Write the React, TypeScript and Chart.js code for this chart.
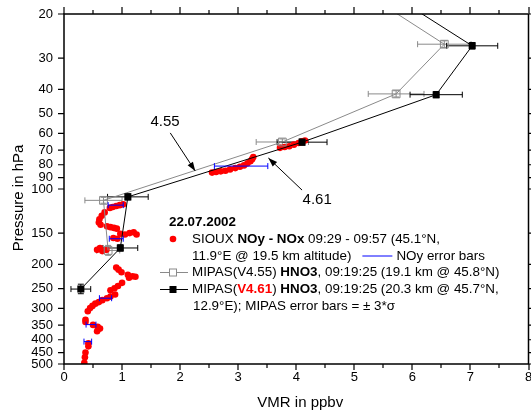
import React, { useEffect, useRef } from "react";
import { Chart, registerables } from "chart.js";

Chart.register(...registerables);

// ---------- data ----------
const xTickValues = [0, 1, 2, 3, 4, 5, 6, 7, 8];
const pressureTicks = [20, 30, 40, 50, 60, 70, 80, 90, 100, 150, 200, 250, 300, 350, 400, 450, 500];

// SIOUX NOy - NOx (ppbv vs hPa)
const siouxVmr = [
  2.55, 2.62, 2.7, 2.78, 2.86, 2.95, 3.03, 3.1, 3.16, 3.21, 3.24, 3.26,
  3.72, 3.8, 3.88, 3.96, 4.04, 4.1, 4.15,
  1.02, 0.96, 0.9, 0.84, 0.79,
  0.7, 0.65, 0.61, 0.6, 0.63,
  0.74, 0.8, 0.86, 0.91,
  0.97, 1.05, 1.13, 1.2, 1.25,
  0.85, 0.92,
  0.62, 0.57, 0.66, 0.73,
  0.9, 0.94, 0.99,
  1.1, 1.12, 1.18, 1.23,
  1.0,
  0.93, 0.87, 0.8,
  0.88, 0.8, 0.74,
  0.66, 0.6,
  0.54, 0.49, 0.45, 0.41,
  0.37, 0.37,
  0.5, 0.58, 0.62, 0.57,
  0.42, 0.42,
  0.37, 0.36, 0.35,
];
const siouxP = [
  86, 85.5, 85, 84.5, 83.5, 82.5, 81.5, 80.5, 79, 77.5, 76, 74.5,
  68.5, 68, 67.5, 66.5, 65.5, 64.5, 64,
  115, 116, 117, 118, 119,
  124, 128, 132, 136, 139,
  141, 142, 143, 144,
  151, 152, 150, 149, 152,
  157, 158,
  172, 175, 177, 175,
  206, 210, 215,
  220, 226, 223, 224,
  237,
  244, 249, 254,
  264, 269, 273,
  278, 283,
  287, 293, 299, 308,
  333, 340,
  349, 355, 361, 370,
  413, 425,
  450, 470, 495,
];

// NOy error bars (centre, pressure, half-width)
const noyVmr = [0.89, 0.9, 3.05, 0.715, 0.465, 0.41];
const noyP = [116, 158, 81, 273, 348, 407];
const noyErr = [0.13, 0.12, 0.46, 0.105, 0.085, 0.066];

// MIPAS V4.55 HNO3
const mipas455Vmr = [5.27, 6.55, 5.72, 3.76, 0.68, 0.76];
const mipas455P = [17, 26.4, 41.7, 64.9, 111, 176];
const mipas455Err = [0, 0.46, 0.48, 0.45, 0.32, 0.2];
const mipas455PErr = [0, 0.8, 1.2, 1.8, 3, 8];

// MIPAS V4.61 HNO3
const mipas461Vmr = [5.69, 7.03, 6.41, 4.1, 1.1, 0.97, 0.29];
const mipas461P = [17, 26.8, 42, 65, 107.5, 172, 251];
const mipas461Err = [0, 0.44, 0.45, 0.43, 0.35, 0.3, 0.17];
const mipas461PErr = [0, 0.8, 1.2, 1.8, 3, 5, 11];

// annotation labels: [text, labelVmr, labelP, tailVmr, tailP, tipVmr, tipP]
const annotations: [string, number, number, number, number, number, number][] = [
  ["4.55", 1.74, 54, 1.83, 59.7, 2.26, 84.7],
  ["4.61", 4.36, 110.6, 4.1, 101, 3.52, 75.2],
];

const FONT = "'Liberation Sans', Arial, Helvetica, sans-serif";
const GREY = "#8a8a8a";

function toPts(xs: number[], ys: number[]) {
  return xs.map((v, i) => ({ x: v, y: ys[i] }));
}

function drawErr(ctx: CanvasRenderingContext2D, xs: any, ys: any, vmr: number[], p: number[], err: number[], pErr: number[] | null, color: string, cap: number) {
  ctx.strokeStyle = color;
  ctx.lineWidth = 1;
  for (let i = 0; i < vmr.length; i++) {
    const yc = ys.getPixelForValue(p[i]);
    const xc = xs.getPixelForValue(vmr[i]);
    if (err[i] > 0) {
      const xl = xs.getPixelForValue(vmr[i] - err[i]);
      const xr = xs.getPixelForValue(vmr[i] + err[i]);
      ctx.beginPath();
      ctx.moveTo(xl, yc); ctx.lineTo(xr, yc);
      ctx.moveTo(xl, yc - cap); ctx.lineTo(xl, yc + cap);
      ctx.moveTo(xr, yc - cap); ctx.lineTo(xr, yc + cap);
      ctx.stroke();
    }
    if (pErr && pErr[i] > 0) {
      const yt = ys.getPixelForValue(p[i] - pErr[i]);
      const yb = ys.getPixelForValue(p[i] + pErr[i]);
      ctx.beginPath();
      ctx.moveTo(xc, yt); ctx.lineTo(xc, yb);
      ctx.moveTo(xc - 3, yt); ctx.lineTo(xc + 3, yt);
      ctx.moveTo(xc - 3, yb); ctx.lineTo(xc + 3, yb);
      ctx.stroke();
    }
  }
}

function drawRich(ctx: CanvasRenderingContext2D, x: number, y: number, parts: [string, boolean, string][], size: number) {
  let cx = x;
  ctx.textAlign = "left";
  ctx.textBaseline = "middle";
  for (const [t, bold, color] of parts) {
    ctx.font = `${bold ? "bold " : ""}${size}px ${FONT}`;
    ctx.fillStyle = color;
    ctx.fillText(t, cx, y);
    cx += ctx.measureText(t).width;
  }
  return cx;
}

function arrow(ctx: CanvasRenderingContext2D, x1: number, y1: number, x2: number, y2: number) {
  ctx.strokeStyle = "#000";
  ctx.fillStyle = "#000";
  ctx.lineWidth = 1;
  ctx.beginPath();
  ctx.moveTo(x1, y1);
  ctx.lineTo(x2, y2);
  ctx.stroke();
  const ang = Math.atan2(y2 - y1, x2 - x1);
  const L = 9, W = 3.2;
  ctx.beginPath();
  ctx.moveTo(x2, y2);
  ctx.lineTo(x2 - L * Math.cos(ang) + W * Math.sin(ang), y2 - L * Math.sin(ang) - W * Math.cos(ang));
  ctx.lineTo(x2 - L * Math.cos(ang) - W * Math.sin(ang), y2 - L * Math.sin(ang) + W * Math.cos(ang));
  ctx.closePath();
  ctx.fill();
}

const customPlugin = {
  id: "customDraw",
  beforeDatasetsDraw(chart: any) {
    const { ctx, chartArea: a, scales } = chart;
    const xs = scales.x, ys = scales.y;
    ctx.save();
    ctx.beginPath();
    ctx.rect(a.left, a.top, a.right - a.left, a.bottom - a.top);
    ctx.clip();
    drawErr(ctx, xs, ys, mipas455Vmr, mipas455P, mipas455Err, mipas455PErr, GREY, 3);
    drawErr(ctx, xs, ys, mipas461Vmr, mipas461P, mipas461Err, mipas461PErr, "#000", 3);
    ctx.restore();
  },
  afterDatasetsDraw(chart: any) {
    const { ctx, chartArea: a, scales } = chart;
    const xs = scales.x, ys = scales.y;
    ctx.save();
    // NOy error bars
    drawErr(ctx, xs, ys, noyVmr, noyP, noyErr, null, "#0000ff", 3);

    // annotations
    for (const [t, lv, lp, tv, tp, hv, hp] of annotations) {
      ctx.font = `15px ${FONT}`;
      ctx.fillStyle = "#000";
      ctx.textAlign = "center";
      ctx.textBaseline = "middle";
      ctx.fillText(t, xs.getPixelForValue(lv), ys.getPixelForValue(lp));
      arrow(ctx, xs.getPixelForValue(tv), ys.getPixelForValue(tp), xs.getPixelForValue(hv), ys.getPixelForValue(hp));
    }

    // frame: axes lines and ticks
    ctx.strokeStyle = "#000";
    ctx.lineWidth = 1.5;
    ctx.beginPath();
    ctx.moveTo(a.left, a.top); ctx.lineTo(a.right, a.top);
    ctx.moveTo(a.right, a.top); ctx.lineTo(a.right, a.bottom);
    ctx.moveTo(a.left, a.top - 0.75); ctx.lineTo(a.left, a.bottom + 0.75);
    ctx.moveTo(a.left, a.bottom); ctx.lineTo(a.right + 0.75, a.bottom);
    ctx.stroke();
    ctx.lineWidth = 1.2;
    ctx.beginPath();
    for (let v = 0; v <= 8.001; v += 0.5) {
      const px = Math.round(xs.getPixelForValue(v));
      const major = Math.abs(v - Math.round(v)) < 1e-6;
      ctx.moveTo(px, a.top); ctx.lineTo(px, a.top - (major ? 7 : 4));
      ctx.moveTo(px, a.bottom); ctx.lineTo(px, a.bottom + (major ? 6 : 4));
    }
    for (const p of pressureTicks) {
      const py = ys.getPixelForValue(p);
      ctx.moveTo(a.left, py); ctx.lineTo(a.left - 6, py);
      ctx.moveTo(a.right, py); ctx.lineTo(a.right + 4, py);
    }
    ctx.stroke();

    // axis titles
    ctx.fillStyle = "#000";
    ctx.font = `15px ${FONT}`;
    ctx.textAlign = "center";
    ctx.textBaseline = "middle";
    ctx.fillText("VMR in ppbv", (a.left + a.right) / 2 + 4, a.bottom + 39);
    ctx.save();
    ctx.translate(19, (a.top + a.bottom) / 2 + 9);
    ctx.rotate(-Math.PI / 2);
    ctx.fillText("Pressure in hPa", 0, 0);
    ctx.restore();

    // legend
    const fs = 13.4;
    const L = a.left;
    const sx = L + 96, ex = L + 124, mx = L + 109, tx = L + 128;
    drawRich(ctx, L + 105, 222, [["22.07.2002", true, "#000"]], fs);
    ctx.fillStyle = "#ff0000";
    ctx.beginPath(); ctx.arc(mx, 239, 3.3, 0, Math.PI * 2); ctx.fill();
    drawRich(ctx, tx, 239, [["SIOUX ", false, "#000"], ["NOy - NOx", true, "#000"], [" 09:29 - 09:57 (45.1°N,", false, "#000"]], fs);
    const e2 = drawRich(ctx, tx, 256, [["11.9°E @ 19.5 km altitude)", false, "#000"]], fs);
    ctx.strokeStyle = "#0000ff"; ctx.lineWidth = 1;
    ctx.beginPath(); ctx.moveTo(e2 + 11, 256); ctx.lineTo(e2 + 41, 256); ctx.stroke();
    drawRich(ctx, e2 + 45, 256, [["NOy error bars", false, "#000"]], fs);

    ctx.strokeStyle = GREY; ctx.lineWidth = 1;
    ctx.beginPath(); ctx.moveTo(sx, 272.5); ctx.lineTo(ex, 272.5); ctx.stroke();
    ctx.fillStyle = "#fff"; ctx.fillRect(mx - 3.5, 269, 7, 7);
    ctx.strokeRect(mx - 3.5, 269, 7, 7);
    drawRich(ctx, tx, 272.5, [["MIPAS(V4.55) ", false, "#000"], ["HNO3", true, "#000"], [", 09:19:25 (19.1 km @ 45.8°N)", false, "#000"]], fs);

    ctx.strokeStyle = "#000";
    ctx.beginPath(); ctx.moveTo(sx, 289.5); ctx.lineTo(ex, 289.5); ctx.stroke();
    ctx.fillStyle = "#000"; ctx.fillRect(mx - 3.5, 286, 7, 7);
    drawRich(ctx, tx, 289.5, [["MIPAS(", false, "#000"], ["V4.61", true, "#ff0000"], [") ", false, "#000"], ["HNO3", true, "#000"], [", 09:19:25 (20.3 km @ 45.7°N,", false, "#000"]], fs);
    drawRich(ctx, tx + 1, 306.5, [["12.9°E); MIPAS error bars = ± 3*σ", false, "#000"]], fs);
    ctx.restore();
  },
};

const CANVAS_W = 535;
const CANVAS_H = 412;

export default function App() {
  const ref = useRef<HTMLCanvasElement | null>(null);
  useEffect(() => {
    document.body.style.margin = "0";
    document.body.style.overflow = "hidden";
    const canvas = ref.current!;
    const chart = new Chart(canvas, {
      type: "scatter",
      data: {
        datasets: [
          {
            label: "MIPAS V4.61",
            data: toPts(mipas461Vmr, mipas461P),
            showLine: true,
            borderColor: "#000",
            borderWidth: 1,
            backgroundColor: "#000",
            pointStyle: "rect",
            pointRadius: 5,
            pointBorderWidth: 0,
          },
          {
            label: "MIPAS V4.55",
            data: toPts(mipas455Vmr, mipas455P),
            showLine: true,
            borderColor: GREY,
            borderWidth: 1,
            backgroundColor: "rgba(0,0,0,0)",
            pointStyle: "rect",
            pointRadius: 5.5,
            pointBorderWidth: 1,
            pointBorderColor: GREY,
          },
          {
            label: "SIOUX",
            data: toPts(siouxVmr, siouxP),
            showLine: false,
            backgroundColor: "#ff0000",
            borderColor: "#ff0000",
            pointRadius: 3.3,
            pointBorderWidth: 0,
          },
        ],
      },
      options: {
        animation: false,
        responsive: false,
        maintainAspectRatio: false,
        layout: { padding: { left: 0, right: 0, top: 14, bottom: 0 } },
        plugins: { legend: { display: false }, tooltip: { enabled: false } },
        scales: {
          x: {
            type: "linear",
            min: 0,
            max: 8,
            afterBuildTicks: (s: any) => { s.ticks = xTickValues.map((v) => ({ value: v })); },
            afterFit: (s: any) => { s.height = 48; s.paddingLeft = 0; s.paddingRight = 0; },
            grid: { display: false, drawTicks: false },
            border: { display: false },
            ticks: { font: { size: 13, family: FONT }, color: "#000", padding: 6, maxRotation: 0 },
          },
          y: {
            type: "logarithmic",
            reverse: true,
            min: 20,
            max: 500,
            afterBuildTicks: (s: any) => { s.ticks = pressureTicks.map((v) => ({ value: v })); },
            afterFit: (s: any) => { s.width = 64; s.paddingTop = 0; s.paddingBottom = 0; },
            grid: { display: false, drawTicks: false },
            border: { display: false },
            ticks: {
              font: { size: 13, family: FONT },
              color: "#000",
              padding: 11,
              autoSkip: false,
              callback: (v: any) => String(v),
            },
          },
        },
      },
      plugins: [customPlugin],
    });
    return () => chart.destroy();
  }, []);
  return (
    <div style={{ width: 531, height: 412, overflow: "hidden" }}>
      <canvas ref={ref} width={CANVAS_W} height={CANVAS_H} style={{ width: CANVAS_W, height: CANVAS_H, display: "block" }} />
    </div>
  );
}
